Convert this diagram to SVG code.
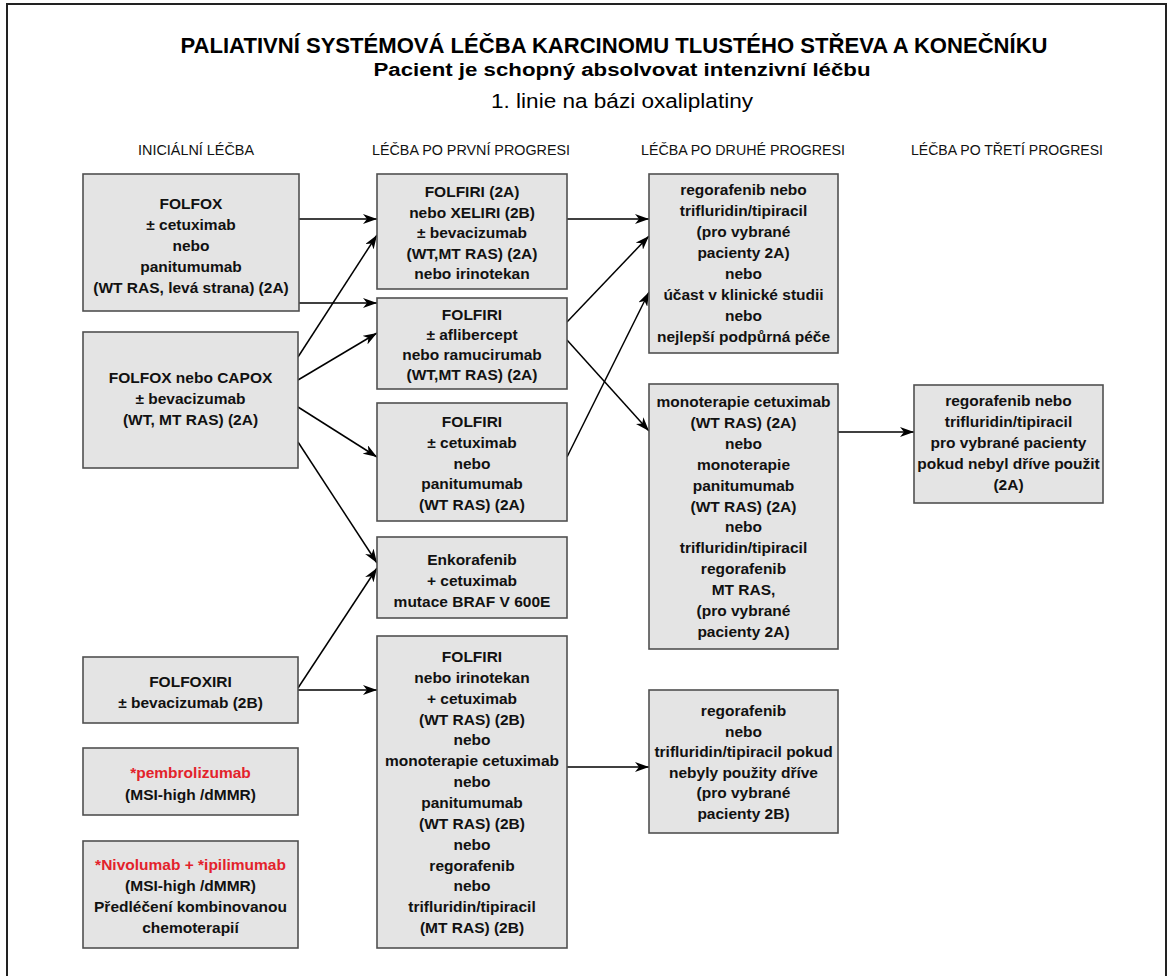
<svg xmlns="http://www.w3.org/2000/svg" width="1173" height="976" viewBox="0 0 1173 976">
<style>
.bx{fill:#e4e4e4;stroke:#505050;stroke-width:1.6}
.t{font-family:"Liberation Sans",Arial,sans-serif;font-weight:bold;font-size:15.5px;text-anchor:middle;fill:#111}
.red{fill:#e3222b}
.hd{font-family:"Liberation Sans",Arial,sans-serif;font-size:14px;text-anchor:middle;fill:#111}
.c{stroke:#000;stroke-width:1.5;fill:none;marker-end:url(#ah)}
</style>
<defs>
<marker id="ah" viewBox="0 0 14 10" refX="14" refY="5" markerWidth="14" markerHeight="10" orient="auto" markerUnits="userSpaceOnUse"><path d="M0,0 L14,5 L0,10 L4,5 z" fill="#000"/></marker>
</defs>
<rect x="0" y="0" width="1173" height="976" fill="#fff"/>
<rect x="7" y="4" width="1159" height="1000" fill="none" stroke="#222" stroke-width="2"/>
<g id="titles">
<text x="614" y="53" style="font-family:'Liberation Sans',Arial,sans-serif;font-weight:bold;font-size:22px;text-anchor:middle" textLength="867" lengthAdjust="spacingAndGlyphs">PALIATIVNÍ SYSTÉMOVÁ LÉČBA KARCINOMU TLUSTÉHO STŘEVA A KONEČNÍKU</text>
<text x="622" y="76" style="font-family:'Liberation Sans',Arial,sans-serif;font-weight:bold;font-size:18px;text-anchor:middle" textLength="497" lengthAdjust="spacingAndGlyphs">Pacient je schopný absolvovat intenzivní léčbu</text>
<text x="622" y="108" style="font-family:'Liberation Sans',Arial,sans-serif;font-size:20px;text-anchor:middle" textLength="262" lengthAdjust="spacingAndGlyphs">1. linie na bázi oxaliplatiny</text>
<text class="hd" x="196" y="155" textLength="116" lengthAdjust="spacingAndGlyphs">INICIÁLNÍ LÉČBA</text>
<text class="hd" x="471" y="155" textLength="198" lengthAdjust="spacingAndGlyphs">LÉČBA PO PRVNÍ PROGRESI</text>
<text class="hd" x="743" y="155" textLength="204" lengthAdjust="spacingAndGlyphs">LÉČBA PO DRUHÉ PROGRESI</text>
<text class="hd" x="1007" y="155" textLength="192" lengthAdjust="spacingAndGlyphs">LÉČBA PO TŘETÍ PROGRESI</text>
</g>
<g id="connectors">
<line class="c" x1="299" y1="219" x2="377" y2="219"/>
<line class="c" x1="299" y1="303" x2="377" y2="303"/>
<line class="c" x1="298" y1="357" x2="377" y2="235"/>
<line class="c" x1="298" y1="380" x2="377" y2="333"/>
<line class="c" x1="298" y1="407" x2="377" y2="457"/>
<line class="c" x1="298" y1="442" x2="377" y2="563"/>
<line class="c" x1="298" y1="688" x2="377" y2="568"/>
<line class="c" x1="298" y1="690" x2="377" y2="690"/>
<line class="c" x1="567" y1="219" x2="649" y2="219"/>
<line class="c" x1="567" y1="322" x2="649" y2="236"/>
<line class="c" x1="567" y1="340" x2="649" y2="431"/>
<line class="c" x1="567" y1="457" x2="649" y2="292"/>
<line class="c" x1="838" y1="432" x2="914" y2="432"/>
<line class="c" x1="567" y1="767" x2="649" y2="767"/>
</g>
<g id="n1"><rect class="bx" x="83" y="174" width="216" height="137"/>
<text class="t"><tspan x="191" y="209">FOLFOX</tspan><tspan x="191" y="230">± cetuximab</tspan><tspan x="191" y="251">nebo</tspan><tspan x="191" y="272">panitumumab</tspan><tspan x="191" y="293">(WT RAS, levá strana) (2A)</tspan></text></g>
<g id="n2"><rect class="bx" x="83" y="332" width="215" height="136"/>
<text class="t"><tspan x="190.5" y="383">FOLFOX nebo CAPOX</tspan><tspan x="190.5" y="404">± bevacizumab</tspan><tspan x="190.5" y="425">(WT, MT RAS) (2A)</tspan></text></g>
<g id="n3"><rect class="bx" x="377" y="174" width="190" height="115"/>
<text class="t"><tspan x="472" y="197">FOLFIRI (2A)</tspan><tspan x="472" y="217.5">nebo XELIRI (2B)</tspan><tspan x="472" y="238">± bevacizumab</tspan><tspan x="472" y="258.5">(WT,MT RAS) (2A)</tspan><tspan x="472" y="279">nebo irinotekan</tspan></text></g>
<g id="n4"><rect class="bx" x="377" y="298" width="190" height="91"/>
<text class="t"><tspan x="472" y="320">FOLFIRI</tspan><tspan x="472" y="340">± aflibercept</tspan><tspan x="472" y="360">nebo ramucirumab</tspan><tspan x="472" y="380">(WT,MT RAS) (2A)</tspan></text></g>
<g id="n5"><rect class="bx" x="377" y="403" width="190" height="118"/>
<text class="t"><tspan x="472" y="427">FOLFIRI</tspan><tspan x="472" y="448">± cetuximab</tspan><tspan x="472" y="468.5">nebo</tspan><tspan x="472" y="489">panitumumab</tspan><tspan x="472" y="510">(WT RAS) (2A)</tspan></text></g>
<g id="n6"><rect class="bx" x="377" y="537" width="190" height="81"/>
<text class="t"><tspan x="472" y="565">Enkorafenib</tspan><tspan x="472" y="586">+ cetuximab</tspan><tspan x="472" y="607">mutace BRAF V 600E</tspan></text></g>
<g id="n7"><rect class="bx" x="377" y="636" width="190" height="312"/>
<text class="t"><tspan x="472" y="662">FOLFIRI</tspan><tspan x="472" y="682.9">nebo irinotekan</tspan><tspan x="472" y="703.7">+ cetuximab</tspan><tspan x="472" y="724.6">(WT RAS) (2B)</tspan><tspan x="472" y="745.4">nebo</tspan><tspan x="472" y="766.3">monoterapie cetuximab</tspan><tspan x="472" y="787.1">nebo</tspan><tspan x="472" y="808">panitumumab</tspan><tspan x="472" y="828.8">(WT RAS) (2B)</tspan><tspan x="472" y="849.7">nebo</tspan><tspan x="472" y="870.5">regorafenib</tspan><tspan x="472" y="891.4">nebo</tspan><tspan x="472" y="912.2">trifluridin/tipiracil</tspan><tspan x="472" y="933">(MT RAS) (2B)</tspan></text></g>
<g id="n8"><rect class="bx" x="83" y="657" width="215" height="66"/>
<text class="t"><tspan x="190.5" y="687">FOLFOXIRI</tspan><tspan x="190.5" y="708">± bevacizumab (2B)</tspan></text></g>
<g id="n9"><rect class="bx" x="83" y="748" width="215" height="67"/>
<text class="t"><tspan class="red" x="190.5" y="778">*pembrolizumab</tspan><tspan x="190.5" y="800">(MSI-high /dMMR)</tspan></text></g>
<g id="n10"><rect class="bx" x="83" y="841" width="215" height="107"/>
<text class="t"><tspan class="red" x="190.5" y="870">*Nivolumab + *ipilimumab</tspan><tspan x="190.5" y="891">(MSI-high /dMMR)</tspan><tspan x="190.5" y="912">Předléčení kombinovanou</tspan><tspan x="190.5" y="933">chemoterapií</tspan></text></g>
<g id="n11"><rect class="bx" x="649" y="174" width="189" height="179"/>
<text class="t"><tspan x="743.5" y="195">regorafenib nebo</tspan><tspan x="743.5" y="216">trifluridin/tipiracil</tspan><tspan x="743.5" y="237">(pro vybrané</tspan><tspan x="743.5" y="258">pacienty 2A)</tspan><tspan x="743.5" y="279">nebo</tspan><tspan x="743.5" y="300">účast v klinické studii</tspan><tspan x="743.5" y="321">nebo</tspan><tspan x="743.5" y="342">nejlepší podpůrná péče</tspan></text></g>
<g id="n12"><rect class="bx" x="649" y="384" width="189" height="265"/>
<text class="t"><tspan x="743.5" y="407">monoterapie cetuximab</tspan><tspan x="743.5" y="427.9">(WT RAS) (2A)</tspan><tspan x="743.5" y="448.8">nebo</tspan><tspan x="743.5" y="469.7">monoterapie</tspan><tspan x="743.5" y="490.6">panitumumab</tspan><tspan x="743.5" y="511.5">(WT RAS) (2A)</tspan><tspan x="743.5" y="532.4">nebo</tspan><tspan x="743.5" y="553.3">trifluridin/tipiracil</tspan><tspan x="743.5" y="574.2">regorafenib</tspan><tspan x="743.5" y="595.1">MT RAS,</tspan><tspan x="743.5" y="616">(pro vybrané</tspan><tspan x="743.5" y="637">pacienty 2A)</tspan></text></g>
<g id="n13"><rect class="bx" x="914" y="385" width="189" height="118"/>
<text class="t"><tspan x="1008.5" y="406">regorafenib nebo</tspan><tspan x="1008.5" y="427">trifluridin/tipiracil</tspan><tspan x="1008.5" y="448">pro vybrané pacienty</tspan><tspan x="1008.5" y="469">pokud nebyl dříve použit</tspan><tspan x="1008.5" y="490">(2A)</tspan></text></g>
<g id="n14"><rect class="bx" x="649" y="690" width="189" height="143"/>
<text class="t"><tspan x="743.5" y="716">regorafenib</tspan><tspan x="743.5" y="736.6">nebo</tspan><tspan x="743.5" y="757.2">trifluridin/tipiracil pokud</tspan><tspan x="743.5" y="777.8">nebyly použity dříve</tspan><tspan x="743.5" y="798.4">(pro vybrané</tspan><tspan x="743.5" y="819">pacienty 2B)</tspan></text></g>
</svg>
